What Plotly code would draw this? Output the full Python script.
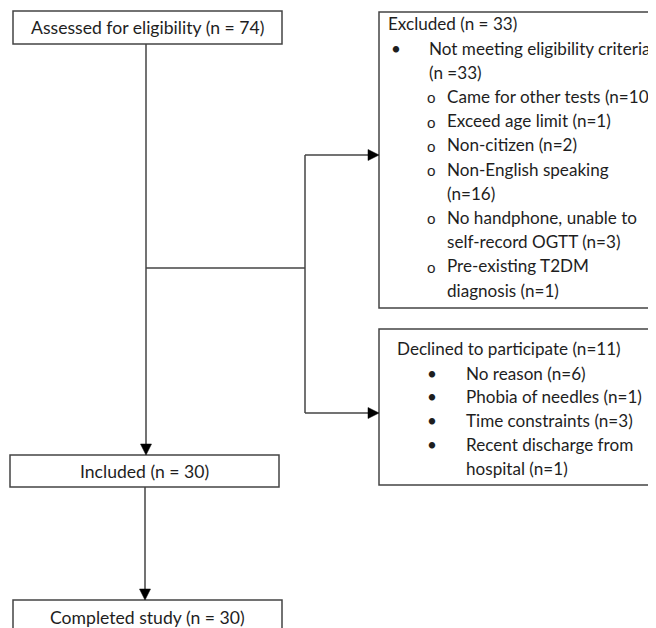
import plotly.graph_objects as go

# ---------------- data ----------------
stage_labels = ["Assessed for eligibility", "Included", "Completed study"]
stage_n = [74, 30, 30]

excluded_n = 33
criteria_n = 33
exclusion_reasons = ["Came for other tests", "Exceed age limit", "Non-citizen",
                     "Non-English speaking\n", "No handphone, unable to\nself-record OGTT",
                     "Pre-existing T2DM\ndiagnosis"]
exclusion_n = [10, 1, 2, 16, 3, 1]

declined_n = 11
decline_reasons = ["No reason", "Phobia of needles", "Time constraints",
                   "Recent discharge from\nhospital"]
decline_n = [6, 1, 3, 1]

# ---------------- style ----------------
W, H = 656, 628
OFF = 8  # page body margin offset
FONT = "Lato"
FS = 17.6
FS_R = 17.1
TXT = "#1e1e1e"
LINE = "#444444"
LW = 1.5

fig = go.Figure()
shapes = []
annotations = []


def box(x0, y0, x1, y1):
    shapes.append(dict(type="rect", x0=x0, y0=y0, x1=x1, y1=y1, xref="x", yref="y",
                       line=dict(color=LINE, width=LW), fillcolor="white", layer="below"))


def seg(x0, y0, x1, y1):
    shapes.append(dict(type="line", x0=x0, y0=y0, x1=x1, y1=y1, xref="x", yref="y",
                       line=dict(color=LINE, width=LW)))


def arrow_down(x, ytip, L=11, hw=5.5):
    shapes.append(dict(type="path", xref="x", yref="y",
                       path=f"M {x},{ytip} L {x-hw},{ytip-L} L {x+hw},{ytip-L} Z",
                       fillcolor="black", line=dict(color="black", width=0.5)))


def arrow_right(xtip, y, L=11, hw=5.5):
    shapes.append(dict(type="path", xref="x", yref="y",
                       path=f"M {xtip},{y} L {xtip-L},{y-hw} L {xtip-L},{y+hw} Z",
                       fillcolor="black", line=dict(color="black", width=0.5)))


def text(x, y, s, anchor="left", size=FS, font=FONT):
    annotations.append(dict(x=x, y=y, xref="x", yref="y", text=s, showarrow=False,
                            xanchor=anchor, yanchor="middle",
                            font=dict(family=font, size=size, color=TXT)))


# main stage boxes
stage_boxes = [(13, 11, 282, 44), (10, 455, 279, 487), (13, 600, 282, 660)]
stage_text_y = [27, 471, 617]
for (x0, y0, x1, y1), lab, n, ty in zip(stage_boxes, stage_labels, stage_n, stage_text_y):
    box(x0, y0, x1, y1)
    text((x0 + x1) / 2, ty, f"{lab} (n = {n})", anchor="center")

# connectors
xm = 146
seg(xm, 44, xm, 446)
arrow_down(xm, 455)
seg(145, 487, 145, 591)
arrow_down(145, 600)
seg(xm, 268, 305, 268)
seg(305, 155, 305, 413)
seg(305, 155, 370, 155)
arrow_right(379, 155)
seg(305, 413, 370, 413)
arrow_right(379, 413)

# excluded box
box(379, 12, 720, 308)
step = 24.2
text(386, 23, f"Excluded (n = {excluded_n})", size=FS_R)
text(396, 48, "•", anchor="center", size=FS_R)
text(427, 48, "Not meeting eligibility criteria", size=FS_R)
text(427, 48 + step, f"(n ={criteria_n})", size=FS_R)
y = 48 + 2 * step
for lab, n in zip(exclusion_reasons, exclusion_n):
    full = lab + (f"(n={n})" if lab.endswith("\n") else f" (n={n})")
    lines = full.split("\n")
    text(431, y + 1, "o", anchor="center", size=15)
    for ln in lines:
        text(445, y, ln, size=FS_R)
        y += step

# declined box
box(379, 329, 655, 485)
text(395, 348, f"Declined to participate (n={declined_n})", size=FS_R)
y = 373
for lab, n in zip(decline_reasons, decline_n):
    full = f"{lab} (n={n})"
    lines = full.split("\n")
    text(432, y, "•", anchor="center", size=FS_R)
    for ln in lines:
        text(464, y, ln, size=FS_R)
        y += 23.8

fig.update_layout(
    width=W, height=H, margin=dict(l=0, r=0, t=0, b=0),
    paper_bgcolor="white", plot_bgcolor="white",
    xaxis=dict(range=[OFF, W + OFF], visible=False, fixedrange=True),
    yaxis=dict(range=[H + OFF, OFF], visible=False, fixedrange=True),
    shapes=shapes, annotations=annotations, showlegend=False,
)
fig.write_html("out.html")
